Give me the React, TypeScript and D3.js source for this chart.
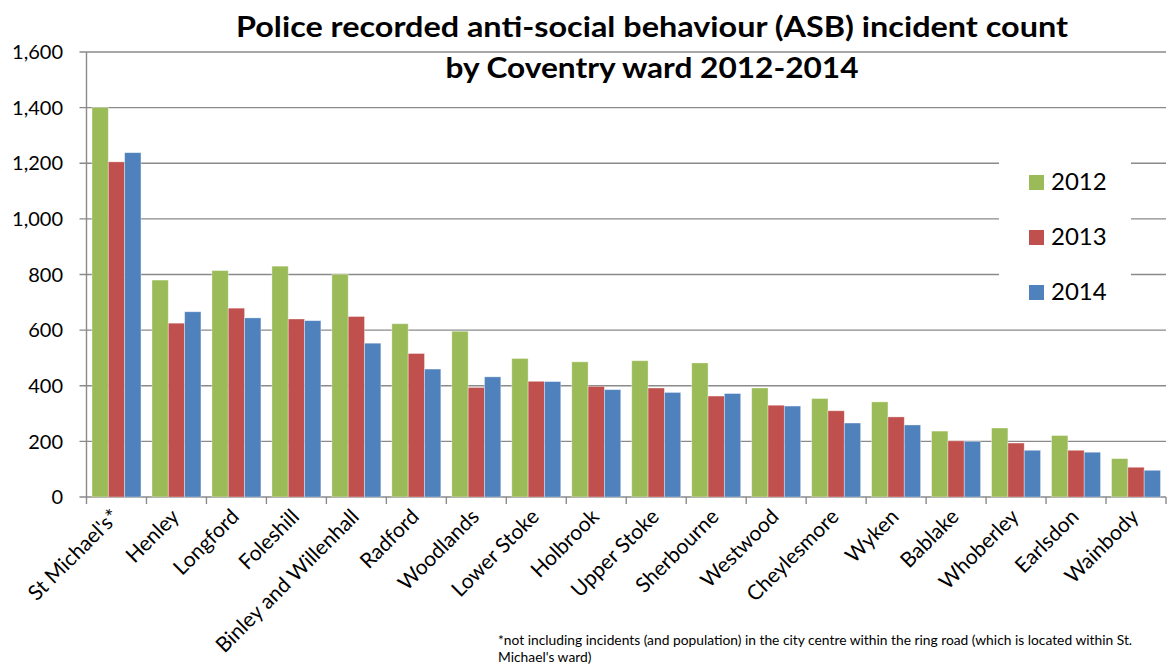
import React from "react";
import * as d3 from "d3";

const wards = [
  "St Michael's*", "Henley", "Longford", "Foleshill", "Binley and Willenhall", "Radford",
  "Woodlands", "Lower Stoke", "Holbrook", "Upper Stoke", "Sherbourne", "Westwood",
  "Cheylesmore", "Wyken", "Bablake", "Whoberley", "Earlsdon", "Wainbody",
];
const years = ["2012", "2013", "2014"];
const values2012 = [1401, 780, 814, 830, 801, 623, 596, 498, 486, 490, 482, 392, 354, 342, 237, 248, 221, 138];
const values2013 = [1205, 625, 679, 640, 649, 516, 394, 416, 398, 392, 363, 330, 310, 288, 202, 194, 168, 107];
const values2014 = [1238, 666, 644, 634, 553, 460, 432, 415, 386, 376, 372, 327, 266, 259, 200, 168, 161, 96];
const yTicks = [0, 200, 400, 600, 800, 1000, 1200, 1400, 1600];
const colors = ["#9BBB59", "#C0504D", "#4F81BD"];
const titleLines = [
  "Police recorded anti-social behaviour (ASB) incident count",
  "by Coventry ward 2012-2014",
];
const footnoteLines = [
  "*not including incidents (and population) in the city centre within the ring road (which is located within St.",
  "Michael's ward)",
];

const W = 1168;
const H = 669;
const left = 86.5;
const right = 1166;
const top = 52;
const bottom = 497;
const font = "Lato, 'Open Sans', sans-serif";
const titleWidths = [832, 413];

export default function App() {
  const series = [values2012, values2013, values2014];
  const x = d3.scaleBand<string>().domain(wards).range([left, right]).paddingInner(0).paddingOuter(0);
  const inner = d3.scaleBand<string>().domain(years).range([5.5, x.bandwidth() - 5.5]).padding(0);
  const y = d3.scaleLinear().domain([0, 1600]).range([bottom, top]);
  const fmt = d3.format(",");
  const gridColor = "#8a8a8a";

  return (
    <svg width={W} height={H} style={{ position: "absolute", left: 0, top: 0, background: "#fff" }}>
      <rect x={0} y={0} width={W} height={H} fill="#fff" />
      {/* gridlines */}
      {yTicks.map((t) => (
        <line key={t} x1={left - 7} x2={right} y1={y(t)} y2={y(t)} stroke={gridColor} strokeWidth={1.4} />
      ))}
      {/* y labels */}
      {yTicks.map((t) => (
        <text key={"l" + t} x={63} y={y(t)} dy="0.36em" textAnchor="end" fontFamily={font} fontSize={20} fill="#000">
          {fmt(t)}
        </text>
      ))}
      {/* legend background */}
      <rect x={999} y={150} width={132} height={160} fill="#fff" />
      {/* bars */}
      {wards.map((w, i) => (
        <g key={w} transform={`translate(${x(w)},0)`}>
          {series.map((s, k) => (
            <rect
              key={k}
              x={inner(years[k])}
              y={y(s[i])}
              width={inner.bandwidth()}
              height={y(0) - y(s[i])}
              fill={colors[k]}
              stroke="#ffffff"
              strokeOpacity={0.45}
              strokeWidth={0.8}
            />
          ))}
        </g>
      ))}
      {/* axes */}
      <line x1={left} x2={left} y1={top} y2={bottom + 7} stroke={gridColor} strokeWidth={1.4} />
      {wards.map((w) => (
        <line key={"t" + w} x1={(x(w) as number) + x.bandwidth()} x2={(x(w) as number) + x.bandwidth()} y1={bottom} y2={bottom + 7} stroke={gridColor} strokeWidth={1.4} />
      ))}
      {/* x labels */}
      {wards.map((w) => {
        const cx = (x(w) as number) + x.bandwidth() / 2 + 4;
        const cy = 518;
        return (
          <text key={"x" + w} x={cx} y={cy} textAnchor="end" transform={`rotate(-45,${cx},${cy})`} fontFamily={font} fontSize={21} fill="#000">
            {w}
          </text>
        );
      })}
      {/* legend */}
      {years.map((yr, k) => (
        <g key={yr} transform={`translate(1029,${175 + k * 55})`}>
          <rect x={0} y={0} width={15} height={15} fill={colors[k]} />
          <text x={22} y={15} fontFamily={font} fontSize={24} fill="#000">{yr}</text>
        </g>
      ))}
      {/* title */}
      {titleLines.map((t, i) => (
        <text key={t} x={652} y={37 + i * 41} textAnchor="middle" fontFamily={font} fontWeight="bold" fontSize={29}
          textLength={titleWidths[i]} lengthAdjust="spacingAndGlyphs" fill="#000">
          {t}
        </text>
      ))}
      {/* footnote */}
      {footnoteLines.map((t, i) => (
        <text key={t} x={498} y={645 + i * 17} fontFamily={font} fontSize={13.8} fill="#000">
          {t}
        </text>
      ))}
    </svg>
  );
}
